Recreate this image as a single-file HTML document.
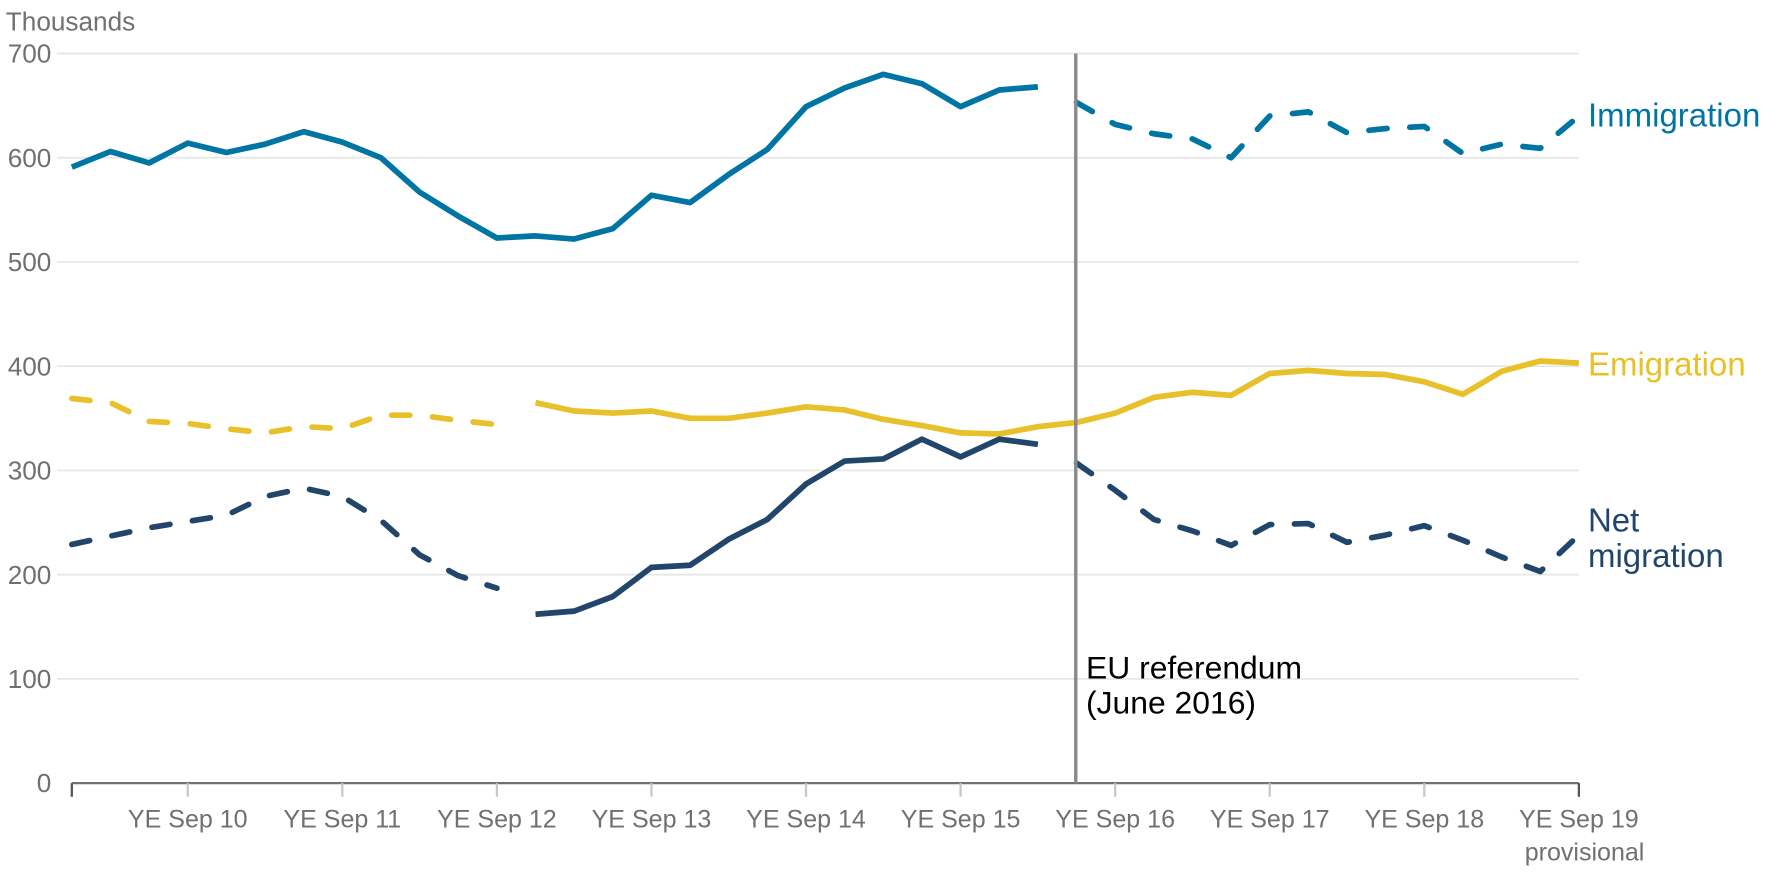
<!DOCTYPE html>
<html><head><meta charset="utf-8"><style>
html,body{margin:0;padding:0;background:#fff;}
svg{display:block;font-family:"Liberation Sans",sans-serif;}
</style></head><body>
<svg id="chart" width="1785" height="881" viewBox="0 0 1568 774" xmlns="http://www.w3.org/2000/svg">
<g id="grid"></g>
<g id="axes"></g>
<g id="series"></g>
<text x="5" y="27" font-size="23" fill="#707070">Thousands</text>
<line x1="945" y1="47" x2="945" y2="688" stroke="#8a8a8a" stroke-width="3"/>
<text x="954" y="596" font-size="28" fill="#000">EU referendum</text>
<text x="954" y="627" font-size="28" fill="#000">(June 2016)</text>
<text x="1395" y="111" font-size="29" fill="#0075a3">Immigration</text>
<text x="1395" y="330" font-size="29" fill="#e8c02a">Emigration</text>
<text x="1395" y="467" font-size="29" fill="#22466b">Net</text>
<text x="1395" y="498" font-size="29" fill="#22466b">migration</text>
</svg>
<script>
const yTicks=[0,100,200,300,400,500,600,700];
const xTickLabels=["YE Sep 10","YE Sep 11","YE Sep 12","YE Sep 13","YE Sep 14","YE Sep 15","YE Sep 16","YE Sep 17","YE Sep 18","YE Sep 19"];
const immigration=[591,606,595,614,605,613,625,615,600,567,544,523,525,522,532,564,557,584,608,649,667,680,671,649,665,668,653,632,623,618,600,640,644,624,628,630,604,613,609,640];
const emigration=[369,365,347,345,340,336,342,340,353,353,348,344,365,357,355,357,350,350,355,361,358,349,343,336,335,342,346,355,370,375,372,393,396,393,392,385,373,395,405,403];
const netMigration=[229,237,245,251,257,275,283,275,252,219,199,187,162,165,179,207,209,234,253,287,309,311,330,313,330,325,307,281,253,242,228,248,249,231,238,247,233,217,203,238];
const NS="http://www.w3.org/2000/svg";
const X=i=>63+i*(1324/39);
const Y=v=>688-v*641/700;
function mk(t,a,p){const e=document.createElementNS(NS,t);for(const k in a)e.setAttribute(k,a[k]);p.appendChild(e);return e;}
const grid=document.getElementById('grid'),axes=document.getElementById('axes'),ser=document.getElementById('series');
yTicks.forEach(v=>{
 if(v>0){const g=mk('line',{x1:50,x2:1387,y1:Y(v),y2:Y(v),stroke:'#e6e6e6','stroke-width':1.5},grid);
 
 }
 const t=mk('text',{x:45,y:Y(v)+8,'font-size':23,fill:'#707070','text-anchor':'end'},axes);t.textContent=v;
 
 
});
const ax=mk('line',{x1:63,x2:1387,y1:688,y2:688,stroke:'#707070','stroke-width':2},axes);


mk('line',{x1:63,x2:63,y1:688,y2:700,stroke:'#555','stroke-width':2},axes);
xTickLabels.forEach((l,k)=>{
 const x=X(3+4*k);
 mk('line',{x1:x,x2:x,y1:688,y2:700,stroke:k==9?'#555':'#c8c8c8','stroke-width':2},axes);
 const t=mk('text',{x:x,y:727,'font-size':22,fill:'#707070','text-anchor':'middle'},axes);t.textContent=l;
 
 
});
const pv=mk('text',{x:1392,y:756,'font-size':22,fill:'#707070','text-anchor':'middle'},axes);pv.textContent='provisional';


function seg(arr,a,b,color,dash,name){
 let d='';for(let i=a;i<=b;i++)d+=(i==a?'M':'L')+X(i)+','+Y(arr[i]);
 const p=mk('path',{d:d,fill:'none',stroke:color,'stroke-width':5,'stroke-linejoin':'round','stroke-linecap':dash?'round':'butt'},ser);
 if(dash)p.setAttribute('stroke-dasharray','16 20');
 
 
}
seg(immigration,0,25,'#0075a3',false,'immigration-line');
seg(immigration,26,39,'#0075a3',true,'immigration-line-dashed');
seg(emigration,0,11,'#e8c02a',true,'emigration-line-dashed');
seg(emigration,12,39,'#e8c02a',false,'emigration-line');
seg(netMigration,0,11,'#22466b',true,'net-migration-line-dashed');
seg(netMigration,12,25,'#22466b',false,'net-migration-line');
seg(netMigration,26,39,'#22466b',true,'net-migration-line-dashed-2');
</script>
</body></html>
